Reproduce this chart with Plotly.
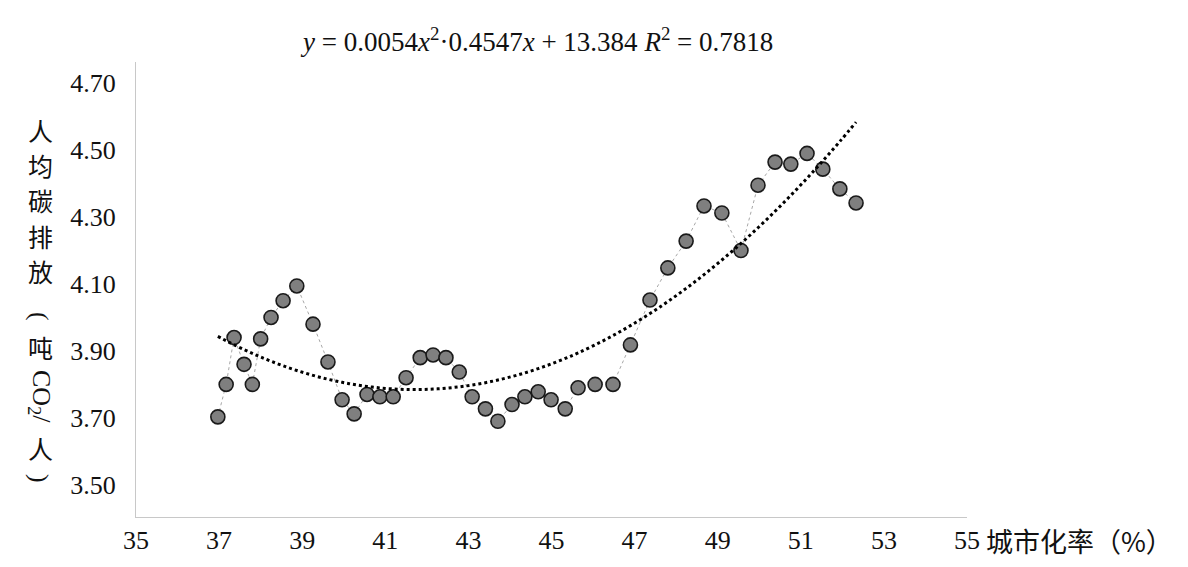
import numpy as np
import plotly.graph_objects as go

# urbanization rate (%) and per-capita carbon emissions (t CO2 / person)
urban_rate = [
    36.97, 37.17, 37.36, 37.60, 37.80, 38.00, 38.25, 38.54, 38.87, 39.26,
    39.62, 39.96, 40.25, 40.56, 40.87, 41.19, 41.50, 41.84, 42.15, 42.46,
    42.78, 43.09, 43.41, 43.71, 44.05, 44.36, 44.68, 44.99, 45.33, 45.64,
    46.05, 46.48, 46.90, 47.37, 47.80, 48.24, 48.67, 49.10, 49.56, 49.97,
    50.38, 50.76, 51.15, 51.53, 51.94, 52.33,
]
carbon_pc = [
    3.703, 3.800, 3.940, 3.860, 3.800, 3.936, 4.000, 4.050, 4.094, 3.980,
    3.867, 3.754, 3.712, 3.770, 3.763, 3.763, 3.820, 3.880, 3.888, 3.880,
    3.837, 3.763, 3.727, 3.690, 3.740, 3.763, 3.778, 3.754, 3.727, 3.790,
    3.800, 3.800, 3.918, 4.052, 4.148, 4.228, 4.333, 4.312, 4.200, 4.395,
    4.464, 4.458, 4.490, 4.443, 4.384, 4.342,
]

x_ticks = [35, 37, 39, 41, 43, 45, 47, 49, 51, 53, 55]
y_ticks = [3.50, 3.70, 3.90, 4.10, 4.30, 4.50, 4.70]

equation = ("<i>y</i> = 0.0054<i>x</i><sup>2</sup>·0.4547<i>x</i> + 13.384 "
            "<i>R</i><sup>2</sup> = 0.7818")

# second-order polynomial trendline, fitted like the spreadsheet does
coef = np.polyfit(urban_rate, carbon_pc, 2)
trend = np.polyval(coef, urban_rate)

OFF = 8  # default page body margin around the plot div
W, H = 1188 - 2 * OFF, 567 - 2 * OFF
# plot box in page pixels
PL, PR, PT, PB = 136, 967, 62, 517
SERIF = "Liberation Serif"
CJK = "Noto Sans CJK SC"


def px(x, y):
    """page pixel position -> paper coordinates"""
    return (x - PL) / (PR - PL), (PB - y) / (PB - PT)


fig = go.Figure()
fig.add_trace(go.Scatter(
    x=urban_rate, y=carbon_pc, mode="lines+markers",
    line=dict(color="#a8a8a8", width=1, dash="dot"),
    marker=dict(size=14, color="#7f7f7f", line=dict(color="#1a1a1a", width=1.6)),
    showlegend=False,
))
fig.add_trace(go.Scatter(
    x=urban_rate, y=trend, mode="lines", line_shape="spline",
    line=dict(color="black", width=3, dash="dot"),
    showlegend=False,
))

fig.update_xaxes(
    range=[35, 55], tickvals=x_ticks, showgrid=False, zeroline=False,
    showline=True, linecolor="#c8c8c8", linewidth=1.3, ticks="", automargin=False,
    tickfont=dict(family=SERIF, size=26, color="#111"), ticklabelstandoff=0,
)
fig.update_yaxes(
    range=[3.404, 4.763], tickvals=y_ticks, tickformat=".2f", showgrid=False,
    zeroline=False, showline=True, linecolor="#c8c8c8", linewidth=1.3, ticks="",
    automargin=False,
    tickfont=dict(family=SERIF, size=26, color="#111"), ticklabelstandoff=14,
)

ann = []
tx, ty = px(536, 40)
ann.append(dict(x=tx, y=ty, text=equation, font=dict(family=SERIF, size=27, color="#111")))
ax_, ay_ = px(984, 540)
ann.append(dict(x=ax_, y=ay_, text="城市化率（%）", xanchor="left",
                font=dict(family=CJK, size=27, color="#111")))

# vertical y-axis title, one glyph per line
label_parts = [("人", 130), ("均", 165), ("碳", 200), ("排", 236), ("放", 271),
               ("吨", 347), ("人", 448)]
for ch, yy in label_parts:
    cx, cy = px(40, yy)
    ann.append(dict(x=cx, y=cy, text=ch, font=dict(family=CJK, size=25, color="#111")))
# rotated pieces: brackets and the chemical formula
for txt, yy in [("(", 316), ("CO<sub>2</sub>/", 396), (")", 478)]:
    cx, cy = px(40, yy)
    ann.append(dict(x=cx, y=cy, text=txt, textangle=90,
                    font=dict(family=SERIF, size=26, color="#111")))

for a in ann:
    a.update(xref="paper", yref="paper", showarrow=False)
    a.setdefault("xanchor", "center")
    a.setdefault("yanchor", "middle")

fig.update_layout(
    width=W, height=H,
    margin=dict(l=PL - OFF, r=W - (PR - OFF), t=PT - OFF, b=H - (PB - OFF)),
    paper_bgcolor="white", plot_bgcolor="white", annotations=ann,
    font=dict(family=SERIF),
)
fig.write_html("out.html")
